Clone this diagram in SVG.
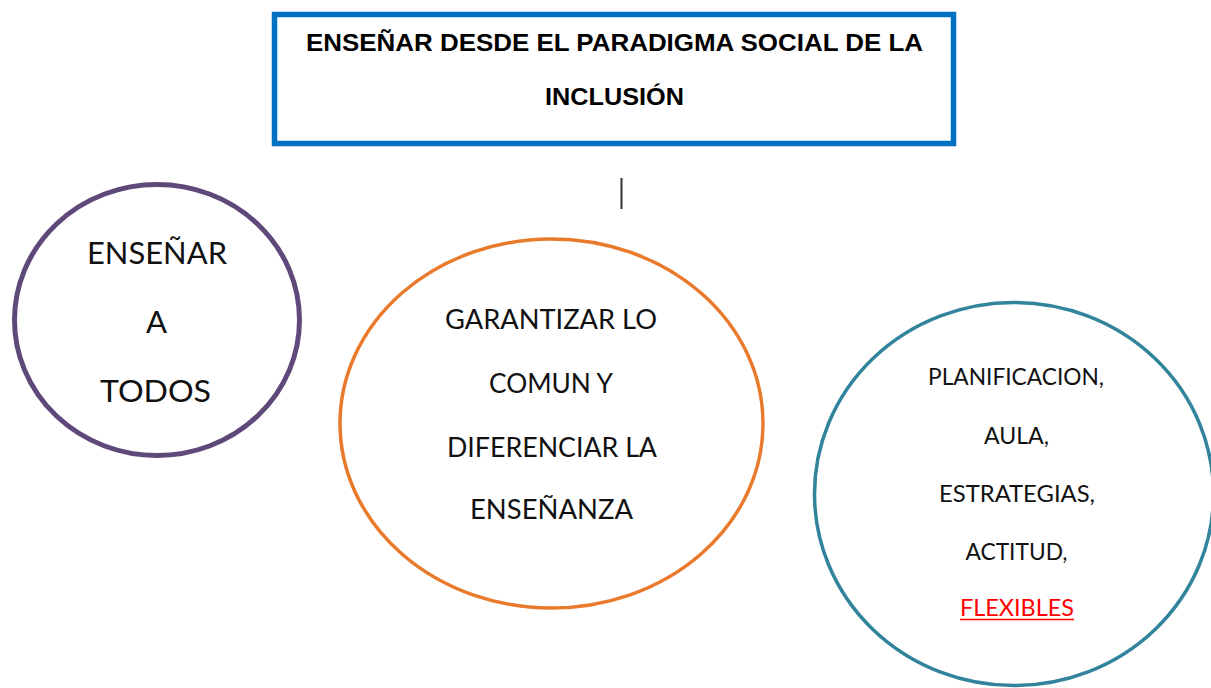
<svg xmlns="http://www.w3.org/2000/svg" width="1211" height="688" viewBox="0 0 1211 688">
<style>
.title{font-family:"Liberation Sans",Arial,sans-serif;font-weight:bold;font-size:24.5px;fill:#000;text-anchor:start}
.body{font-family:Lato,"Open Sans",sans-serif;fill:#111;text-anchor:start}
.big{font-size:30px}
.mid{font-size:27px}
.small{font-size:22.5px}
.red{fill:#FF0000}
</style>
<rect width="1211" height="688" fill="#ffffff"/>
<g id="connectors">
<line x1="621.5" y1="178" x2="621.5" y2="209" stroke="#333333" stroke-width="2"/>
</g>
<g id="title">
<rect x="274.5" y="14.5" width="679" height="129" fill="#ffffff" stroke="#0070C0" stroke-width="5.5"/>
<text class="title" x="306" y="51" textLength="617" lengthAdjust="spacingAndGlyphs">ENSEÑAR DESDE EL PARADIGMA SOCIAL DE LA</text>
<text class="title" x="545" y="105" textLength="139" lengthAdjust="spacingAndGlyphs">INCLUSIÓN</text>
</g>
<g id="ensenar-a-todos">
<ellipse cx="157" cy="320" rx="142.5" ry="135.5" fill="#ffffff" stroke="#5F497A" stroke-width="5"/>
<text class="body big" x="87" y="263.5" textLength="140" lengthAdjust="spacingAndGlyphs">ENSEÑAR</text>
<text class="body big" x="146" y="333" textLength="21" lengthAdjust="spacingAndGlyphs">A</text>
<text class="body big" x="100" y="402" textLength="111" lengthAdjust="spacingAndGlyphs">TODOS</text>
</g>
<g id="garantizar">
<ellipse cx="551.5" cy="423.5" rx="211.5" ry="184.5" fill="#ffffff" stroke="#E97A2B" stroke-width="3.5"/>
<text class="body mid" x="445" y="329" textLength="212" lengthAdjust="spacingAndGlyphs">GARANTIZAR LO</text>
<text class="body mid" x="489" y="392.5" textLength="124" lengthAdjust="spacingAndGlyphs">COMUN Y</text>
<text class="body mid" x="447" y="457" textLength="210" lengthAdjust="spacingAndGlyphs">DIFERENCIAR LA</text>
<text class="body mid" x="470" y="519" textLength="163" lengthAdjust="spacingAndGlyphs">ENSEÑANZA</text>
</g>
<g id="flexibles">
<ellipse cx="1014" cy="494" rx="199.5" ry="191.5" fill="#ffffff" stroke="#31849B" stroke-width="3.5"/>
<text class="body small" x="928" y="385" textLength="176" lengthAdjust="spacingAndGlyphs">PLANIFICACION,</text>
<text class="body small" x="984" y="444" textLength="65" lengthAdjust="spacingAndGlyphs">AULA,</text>
<text class="body small" x="939" y="502" textLength="156" lengthAdjust="spacingAndGlyphs">ESTRATEGIAS,</text>
<text class="body small" x="965.5" y="560" textLength="102" lengthAdjust="spacingAndGlyphs">ACTITUD,</text>
<text class="body small red" x="960" y="616" textLength="114" lengthAdjust="spacingAndGlyphs">FLEXIBLES</text>
<line x1="960" y1="619.5" x2="1074" y2="619.5" stroke="#FF0000" stroke-width="1.5"/>
</g>
</svg>
